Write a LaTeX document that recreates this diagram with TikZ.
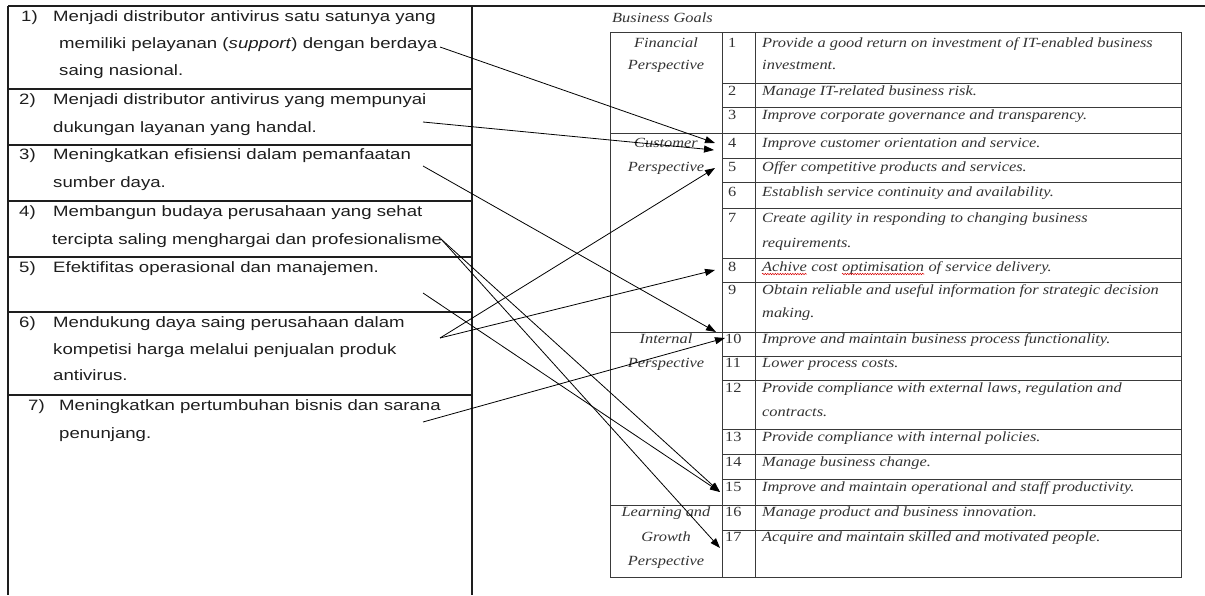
\documentclass[tikz,border=0pt]{standalone}
\usepackage{fontspec}
\usetikzlibrary{arrows.meta,decorations.pathmorphing}
\newfontfamily\lsans[FakeStretch=1.24]{Liberation Sans}
\newfontfamily\tser[FakeStretch=1.17]{Liberation Serif}
\definecolor{ink}{HTML}{1E1E1E}
\definecolor{gink}{HTML}{333333}
\definecolor{rul}{HTML}{3A3A3A}
\tikzset{
  lt/.style={anchor=base west, inner sep=0pt, text=ink, font=\lsans\fontsize{15}{18}\selectfont},
  rt/.style={anchor=base west, inner sep=0pt, text=gink, font=\tser\itshape\fontsize{14}{16}\selectfont},
  numtxt/.style={anchor=base west, inner sep=0pt, text=gink, font=\tser\fontsize{14}{16}\selectfont},
  persp/.style={anchor=base, inner sep=0pt, text=gink, font=\tser\itshape\fontsize{14}{16}\selectfont},
  leftrule/.style={line width=1.1pt, draw=ink},
  rightrule/.style={line width=0.9pt, draw=rul},
  conn/.style={-{Triangle[length=10pt,width=7pt]}, line width=0.8pt, draw=black},
  spellwave/.style={draw=red!85!black, line width=0.5pt, decorate, decoration={snake, amplitude=0.7pt, segment length=2.5pt}}
}
\begin{document}
\begin{tikzpicture}[x=1pt,y=-1pt]
\useasboundingbox (0,0) rectangle (1205,595);
\fill[white] (0,0) rectangle (1205,595);
% ---------- frame and left table ----------
\draw[line width=1.6pt, draw=ink] (8,6) -- (1205,6);
\draw[leftrule] (8,6) -- (8,595);
\draw[leftrule] (472,6) -- (472,595);
\foreach \yy in {89,145,201,257,312,395}
  \draw[leftrule] (8,\yy) -- (472,\yy);
% left texts
\node[lt] (n1) at (21,21) {1)};
\node[lt] (r1a) at (53,21) {Menjadi distributor antivirus satu satunya yang};
\node[lt] (r1b) at (59,48) {memiliki pelayanan (\textit{support}) dengan berdaya};
\node[lt] (r1c) at (59,75) {saing nasional.};
\node[lt] (n2) at (19,104) {2)};
\node[lt] (r2a) at (53,104) {Menjadi distributor antivirus yang mempunyai};
\node[lt] (r2b) at (53,132) {dukungan layanan yang handal.};
\node[lt] (n3) at (19,159) {3)};
\node[lt] (r3a) at (53,159) {Meningkatkan efisiensi dalam pemanfaatan};
\node[lt] (r3b) at (53,187) {sumber daya.};
\node[lt] (n4) at (19,216) {4)};
\node[lt] (r4a) at (53,216) {Membangun budaya perusahaan yang sehat};
\node[lt] (r4b) at (52,244) {tercipta saling menghargai dan profesionalisme};
\node[lt] (n5) at (19,272) {5)};
\node[lt] (r5a) at (53,272) {Efektifitas operasional dan manajemen.};
\node[lt] (n6) at (19,327) {6)};
\node[lt] (r6a) at (53,327) {Mendukung daya saing perusahaan dalam};
\node[lt] (r6b) at (53,354) {kompetisi harga melalui penjualan produk};
\node[lt] (r6c) at (53,380) {antivirus.};
\node[lt] (n7) at (28,410) {7)};
\node[lt] (r7a) at (59,410) {Meningkatkan pertumbuhan bisnis dan sarana};
\node[lt] (r7b) at (59,438) {penunjang.};
% ---------- right table ----------
\node[rt] (bg) at (612,22) {Business Goals};
\draw[rightrule] (610,32) rectangle (1181,577);
\draw[rightrule] (722,32) -- (722,577);
\draw[rightrule] (755,32) -- (755,577);
\foreach \yy in {83,107,158,182,208,258,282,356,380,429,454,479,530}
  \draw[rightrule] (722,\yy) -- (1181,\yy);
\foreach \yy in {133,332,505}
  \draw[rightrule] (610,\yy) -- (1181,\yy);
% perspectives
\node[persp] (pf1) at (666,47.5) {Financial};
\node[persp] (pf2) at (666,69.5) {Perspective};
\node[persp] (pc1) at (666,147.5) {Customer};
\node[persp] (pc2) at (666,171.5) {Perspective};
\node[persp] (pi1) at (666,343.5) {Internal};
\node[persp] (pi2) at (666,367.5) {Perspective};
\node[persp] (pl1) at (666,516.5) {Learning and};
\node[persp] (pl2) at (666,541.5) {Growth};
\node[persp] (pl3) at (666,565.5) {Perspective};
% numbers
\node[numtxt] (k1) at (728,47.5) {1};
\node[numtxt] (k2) at (728,95.5) {2};
\node[numtxt] (k3) at (728,119.5) {3};
\node[numtxt] (k4) at (728,147.5) {4};
\node[numtxt] (k5) at (728,171.5) {5};
\node[numtxt] (k6) at (728,196.5) {6};
\node[numtxt] (k7) at (728,222.5) {7};
\node[numtxt] (k8) at (728,271.5) {8};
\node[numtxt] (k9) at (728,294.5) {9};
\node[numtxt] (k10) at (725,343.5) {10};
\node[numtxt] (k11) at (725,367.5) {11};
\node[numtxt] (k12) at (725,392.5) {12};
\node[numtxt] (k13) at (725,441.5) {13};
\node[numtxt] (k14) at (725,466.5) {14};
\node[numtxt] (k15) at (725,491.5) {15};
\node[numtxt] (k16) at (725,516.5) {16};
\node[numtxt] (k17) at (725,541.5) {17};
% goals
\node[rt] (g1a) at (762,47.5) {Provide a good return on investment of IT-enabled business};
\node[rt] (g1b) at (762,69.5) {investment.};
\node[rt] (g2) at (762,95.5) {Manage IT-related business risk.};
\node[rt] (g3) at (762,119.5) {Improve corporate governance and transparency.};
\node[rt] (g4) at (762,147.5) {Improve customer orientation and service.};
\node[rt] (g5) at (762,171.5) {Offer competitive products and services.};
\node[rt] (g6) at (762,196.5) {Establish service continuity and availability.};
\node[rt] (g7a) at (762,222.5) {Create agility in responding to changing business};
\node[rt] (g7b) at (762,247.5) {requirements.};
\node[rt] (g8a) at (762,271.5) {Achive};
\node[rt] (g8b) at (g8a.base east) {\ cost\ \null};
\node[rt] (g8c) at (g8b.base east) {optimisation};
\node[rt] (g8d) at (g8c.base east) {\ of service delivery.};
\draw[spellwave] ([yshift=-2.5pt]g8a.base west) -- ([yshift=-2.5pt]g8a.base east);
\draw[spellwave] ([yshift=-2.5pt]g8c.base west) -- ([yshift=-2.5pt]g8c.base east);
\node[rt] (g9a) at (762,294.5) {Obtain reliable and useful information for strategic decision};
\node[rt] (g9b) at (762,317.5) {making.};
\node[rt] (g10) at (762,343.5) {Improve and maintain business process functionality.};
\node[rt] (g11) at (762,367.5) {Lower process costs.};
\node[rt] (g12a) at (762,392.5) {Provide compliance with external laws, regulation and};
\node[rt] (g12b) at (762,416.5) {contracts.};
\node[rt] (g13) at (762,441.5) {Provide compliance with internal policies.};
\node[rt] (g14) at (762,466.5) {Manage business change.};
\node[rt] (g15) at (762,491.5) {Improve and maintain operational and staff productivity.};
\node[rt] (g16) at (762,516.5) {Manage product and business innovation.};
\node[rt] (g17) at (762,541.5) {Acquire and maintain skilled and motivated people.};
% ---------- connectors ----------
\coordinate (s1) at (440,47);
\coordinate (s2) at (423,122);
\coordinate (s3) at (423,166);
\coordinate (s4) at (441,239);
\coordinate (s5) at (423,293);
\coordinate (s6) at (440,338);
\coordinate (s7) at (423,422);
\coordinate (e4a) at (715,143);
\coordinate (e4b) at (714,150);
\coordinate (e5) at (715,168);
\coordinate (e8) at (715,270);
\coordinate (e10a) at (716,332);
\coordinate (e10b) at (725,338);
\coordinate (e15) at (720,492);
\coordinate (e17) at (720,548);
\draw[conn] (s1) -- (e4a);
\draw[conn] (s2) -- (e4b);
\draw[conn] (s3) -- (e10a);
\draw[conn] (s4) -- (e15);
\draw[conn] (s4) -- (e17);
\draw[conn] (s5) -- (e15);
\draw[conn] (s6) -- (e5);
\draw[conn] (s6) -- (e8);
\draw[conn] (s7) -- (e10b);
\end{tikzpicture}
\end{document}
